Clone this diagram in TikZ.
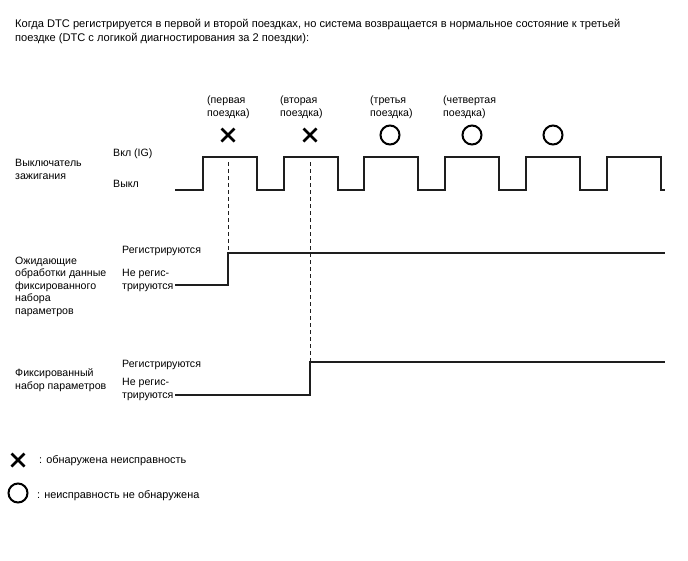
\documentclass[tikz,border=0pt]{standalone}
\usepackage{fontspec}
\setmainfont{Liberation Sans}
\usetikzlibrary{positioning}
\definecolor{inkc}{RGB}{0,0,0}
\definecolor{linec}{RGB}{30,30,30}
\tikzset{
  txt/.style={font=\fontsize{10.6}{12.5}\selectfont, text=inkc, inner sep=0pt,
              align=left, anchor=base west},
  head/.style={txt, font=\fontsize{11.1}{14.5}\selectfont},
  trip/.style={txt, font=\fontsize{10.6}{13}\selectfont},
  wave/.style={draw=linec, line width=1.3pt, line join=miter},
  guide/.style={draw=linec, line width=1pt, dash pattern=on 4pt off 3pt},
}
\tikzset{
  % fault found in this trip
  ngmark/.pic={
    \draw[line width=2.6pt, draw=inkc] (-6.5,-6.5) -- (6.5,6.5) (-6.5,6.5) -- (6.5,-6.5);
  },
  % trip with no fault
  okmark/.pic={
    \draw[line width=2pt, draw=inkc] (0,0) circle (9.5);
  },
}

\begin{document}
\begin{tikzpicture}[x=1pt, y=-1pt]
  \useasboundingbox (0,0) rectangle (688,560);

  % (multi-line texts sit on their last baseline)
  \node[head] (title) at (15,41.5)
    {Когда DTC регистрируется в первой и второй поездках, но система возвращается в нормальное состояние к третьей\\
     поездке (DTC с логикой диагностирования за 2 поездки):};

  % trips
  \node[trip] (t1) at (207,116) {(первая\\поездка)};
  \node[trip] (t2) at (280,116) {(вторая\\поездка)};
  \node[trip] (t3) at (370,116) {(третья\\поездка)};
  \node[trip] (t4) at (443,116) {(четвертая\\поездка)};

  \pic at (228,135) {ngmark};
  \pic at (310,135) {ngmark};
  \pic at (390,135) {okmark};
  \pic at (472,135) {okmark};
  \pic at (553,135) {okmark};

  % ignition switch
  \node[txt] (ig) at (15,179) {Выключатель\\зажигания};
  \node[txt] (igon) at (113,156) {Вкл (IG)};
  \node[txt] (igoff) at (113,187) {Выкл};
  \draw[wave] (175,190)
    \foreach \r in {203,284,364,445,526,607} {
      -- (\r,190) -- (\r,157) -- (\r+54,157) -- (\r+54,190)
    } -- (665,190);

  % pending freeze frame data
  \node[txt] (pend) at (15,314)
    {Ожидающие\\обработки данные\\фиксированного\\набора\\параметров};
  \node[txt] (pon) at (122,253) {Регистрируются};
  \node[txt] (poff) at (122,289) {Не регис-\\трируются};
  \draw[wave] (175,285) -- (228,285) -- (228,253) -- (665,253);

  % freeze frame data
  \node[txt] (ffd) at (15,389) {Фиксированный\\набор параметров};
  \node[txt] (fon) at (122,367) {Регистрируются};
  \node[txt] (foff) at (122,398) {Не регис-\\трируются};
  \draw[wave] (175,395) -- (310,395) -- (310,362) -- (665,362);

  \draw[guide] (228,162) -- (228,253);
  \draw[guide] (310,162) -- (310,362);

  % legend
  \pic at (18,460) {ngmark};
  \node[txt, font=\fontsize{10.9}{13}\selectfont] (lng) at (39,463) {: обнаружена неисправность};
  \pic at (18,493) {okmark};
  \node[txt, font=\fontsize{10.9}{13}\selectfont] (lok) at (37,498) {: неисправность не обнаружена};
\end{tikzpicture}
\end{document}
